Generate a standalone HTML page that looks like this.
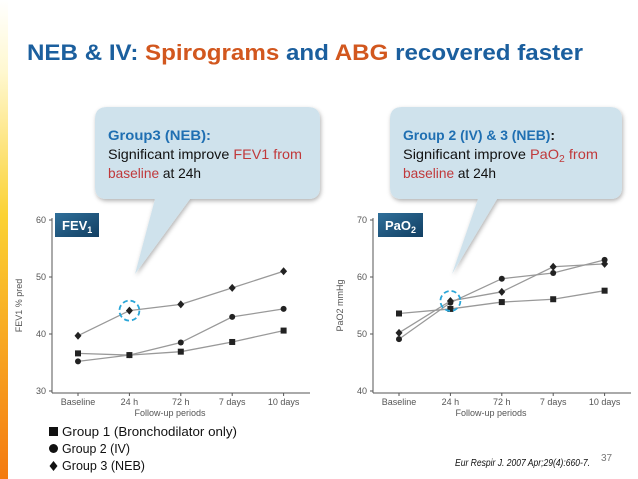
<!DOCTYPE html>
<html><head><meta charset="utf-8">
<style>
html,body{margin:0;padding:0;background:#fff;}
body{width:638px;height:479px;overflow:hidden;position:relative;font-family:"Liberation Sans",sans-serif;}
svg{position:absolute;left:0;top:0;}
</style></head>
<body>
<svg width="638" height="479" viewBox="0 0 638 479">
<defs>
<linearGradient id="sidebar" x1="0" y1="0" x2="0" y2="1">
<stop offset="0" stop-color="#fff"/><stop offset="0.15" stop-color="#fff8d0"/><stop offset="0.45" stop-color="#fbd233"/><stop offset="1" stop-color="#f47a10"/>
</linearGradient>
<linearGradient id="badge" x1="0" y1="0" x2="1" y2="1">
<stop offset="0" stop-color="#2f6f9a"/><stop offset="1" stop-color="#123f62"/>
</linearGradient>
<filter id="sh" x="-10%" y="-10%" width="120%" height="130%"><feDropShadow dx="1" dy="2" stdDeviation="2" flood-color="#000" flood-opacity="0.3"/></filter>
</defs>
<rect x="0" y="0" width="8" height="479" fill="url(#sidebar)"/>
<text x="27" y="60" font-size="22" font-weight="bold" textLength="556" lengthAdjust="spacingAndGlyphs" fill="#1b5f9e">NEB &amp; IV: <tspan fill="#d2571e">Spirograms</tspan> and <tspan fill="#d2571e">ABG</tspan> recovered faster</text>

<g filter="url(#sh)">
<path d="M107,107 H308 Q320,107 320,119 V187 Q320,199 308,199 H190 L135,274 L155,199 H107 Q95,199 95,187 V119 Q95,107 107,107 Z" fill="#cfe2ec"/>
</g>
<g font-size="14">
<text x="108" y="140" fill="#1f6fb2" font-weight="bold" textLength="103" lengthAdjust="spacingAndGlyphs">Group3 (NEB):</text>
<text x="108" y="159" fill="#111" textLength="194" lengthAdjust="spacingAndGlyphs">Significant improve <tspan fill="#c0393b">FEV1 from</tspan></text>
<text x="108" y="178" fill="#111" textLength="93" lengthAdjust="spacingAndGlyphs"><tspan fill="#c0393b">baseline</tspan> at 24h</text>
</g>

<g filter="url(#sh)">
<path d="M402,107 H610 Q622,107 622,119 V187 Q622,199 610,199 H497 L452,274 L478,199 H402 Q390,199 390,187 V119 Q390,107 402,107 Z" fill="#cfe2ec"/>
</g>
<g font-size="14">
<text x="403" y="140" fill="#1f6fb2" font-weight="bold" textLength="152" lengthAdjust="spacingAndGlyphs">Group 2 (IV) &amp; 3 (NEB)<tspan fill="#111">:</tspan></text>
<text x="403" y="159" fill="#111" textLength="195" lengthAdjust="spacingAndGlyphs">Significant improve <tspan fill="#c0393b">PaO<tspan font-size="10" dy="3">2</tspan><tspan dy="-3"> from</tspan></tspan></text>
<text x="403" y="178" fill="#111" textLength="93" lengthAdjust="spacingAndGlyphs"><tspan fill="#c0393b">baseline</tspan> at 24h</text>
</g>

<g id="chartL"></g>
<g id="chartR"></g>

<rect x="55" y="213" width="44" height="24" fill="url(#badge)"/>
<text x="62" y="230" font-size="13" font-weight="bold" fill="#fff">FEV<tspan font-size="9" dy="3">1</tspan></text>
<rect x="378" y="213" width="45" height="24" fill="url(#badge)"/>
<text x="385" y="230" font-size="13" font-weight="bold" fill="#fff">PaO<tspan font-size="9" dy="3">2</tspan></text>

<g font-size="13" fill="#111">
<g><rect x="49" y="427" width="9" height="9" fill="#111"/><text x="62" y="436" textLength="175" lengthAdjust="spacingAndGlyphs">Group 1 (Bronchodilator only)</text></g>
<g><circle cx="53.5" cy="448.5" r="4.5" fill="#111"/><text x="62" y="453" textLength="68" lengthAdjust="spacingAndGlyphs">Group 2 (IV)</text></g>
<g><path d="M53.5,461 L57.5,466 L53.5,471 L49.5,466Z" fill="#111"/><text x="62" y="470" textLength="83" lengthAdjust="spacingAndGlyphs">Group 3 (NEB)</text></g>
</g>
<text x="455" y="466" font-size="10" font-style="italic" fill="#111" textLength="135" lengthAdjust="spacingAndGlyphs">Eur Respir J. 2007 Apr;29(4):660-7.</text>
<text x="601" y="461" font-size="10" fill="#777">37</text>
</svg>
<script>
const categories = ["Baseline","24 h","72 h","7 days","10 days"];
const fevTicks = [30,40,50,60];
const fevGroup1 = [36.6,36.3,36.9,38.6,40.6];
const fevGroup2 = [35.2,36.3,38.5,43.0,44.4];
const fevGroup3 = [39.7,44.1,45.2,48.1,51.0];
const paoTicks = [40,50,60,70];
const paoGroup1 = [53.6,54.4,55.6,56.1,57.6];
const paoGroup2 = [49.1,55.5,59.7,60.7,63.0];
const paoGroup3 = [50.2,55.8,57.4,61.8,62.3];
const NS="http://www.w3.org/2000/svg";
function mk(tag,attrs,parent){const e=document.createElementNS(NS,tag);for(const k in attrs)e.setAttribute(k,attrs[k]);parent.appendChild(e);return e;}
function drawChart(g,cfg){
  const x0=cfg.ax, yTop=220, yBot=391, xEnd=cfg.ax+258;
  const ymin=cfg.ticks[0], ymax=cfg.ticks[cfg.ticks.length-1];
  const yS=v=>yBot-(v-ymin)/(ymax-ymin)*(yBot-yTop);
  const xS=i=>cfg.ax+26+i*51.4;
  let a=mk('line',{x1:x0,y1:yTop-2,x2:x0,y2:yBot+2,stroke:'#555','stroke-width':1},g);
  
  
  a=mk('line',{x1:x0,y1:yBot+2,x2:xEnd,y2:yBot+2,stroke:'#555','stroke-width':1},g);
  
  
  cfg.ticks.forEach(t=>{
    mk('line',{x1:x0-3,y1:yS(t),x2:x0,y2:yS(t),stroke:'#555'},g);
    const tx=mk('text',{x:x0-6,y:yS(t)+3,'font-size':9,fill:'#555','text-anchor':'end'},g);
    tx.textContent=t;
    
    
  });
  categories.forEach((c,i)=>{
    mk('line',{x1:xS(i),y1:yBot+2,x2:xS(i),y2:yBot+5,stroke:'#555'},g);
    const tx=mk('text',{x:xS(i),y:yBot+14,'font-size':9,fill:'#555','text-anchor':'middle'},g);
    tx.textContent=c;
    
    
  });
  const xt=mk('text',{x:x0+118,y:yBot+25,'font-size':9,fill:'#555','text-anchor':'middle'},g);
  xt.textContent='Follow-up periods';
  
  
  const yt=mk('text',{x:0,y:0,'font-size':9,fill:'#555','text-anchor':'middle',transform:`translate(${x0-30},${(yTop+yBot)/2}) rotate(-90)`},g);
  yt.textContent=cfg.ytitle;
  
  
  cfg.series.forEach((s,si)=>{
    const pts=s.vals.map((v,i)=>xS(i)+','+yS(v)).join(' ');
    const pl=mk('polyline',{points:pts,fill:'none',stroke:'#999','stroke-width':1.3},g);
    
    
    s.vals.forEach((v,i)=>{
      const cx=xS(i), cy=yS(v); let m;
      if(s.shape==='sq') m=mk('rect',{x:cx-3,y:cy-3,width:6,height:6,fill:'#222'},g);
      else if(s.shape==='ci') m=mk('circle',{cx:cx,cy:cy,r:3,fill:'#222'},g);
      else m=mk('path',{d:`M${cx},${cy-4} L${cx+3.5},${cy} L${cx},${cy+4} L${cx-3.5},${cy}Z`,fill:'#222'},g);
      
      
    });
  });
  const hc=mk('circle',{cx:xS(1),cy:yS(cfg.hl),r:10,fill:'none',stroke:'#2aa6d8','stroke-width':1.8,'stroke-dasharray':'5,3'},g);
  
  
}
drawChart(document.getElementById('chartL'),{ax:52,ticks:fevTicks,ytitle:'FEV1 % pred',hl:fevGroup3[1],
  series:[{vals:fevGroup1,shape:'sq'},{vals:fevGroup2,shape:'ci'},{vals:fevGroup3,shape:'di'}]});
drawChart(document.getElementById('chartR'),{ax:373,ticks:paoTicks,ytitle:'PaO2 mmHg',hl:paoGroup3[1],
  series:[{vals:paoGroup1,shape:'sq'},{vals:paoGroup2,shape:'ci'},{vals:paoGroup3,shape:'di'}]});
</script>
</body></html>
